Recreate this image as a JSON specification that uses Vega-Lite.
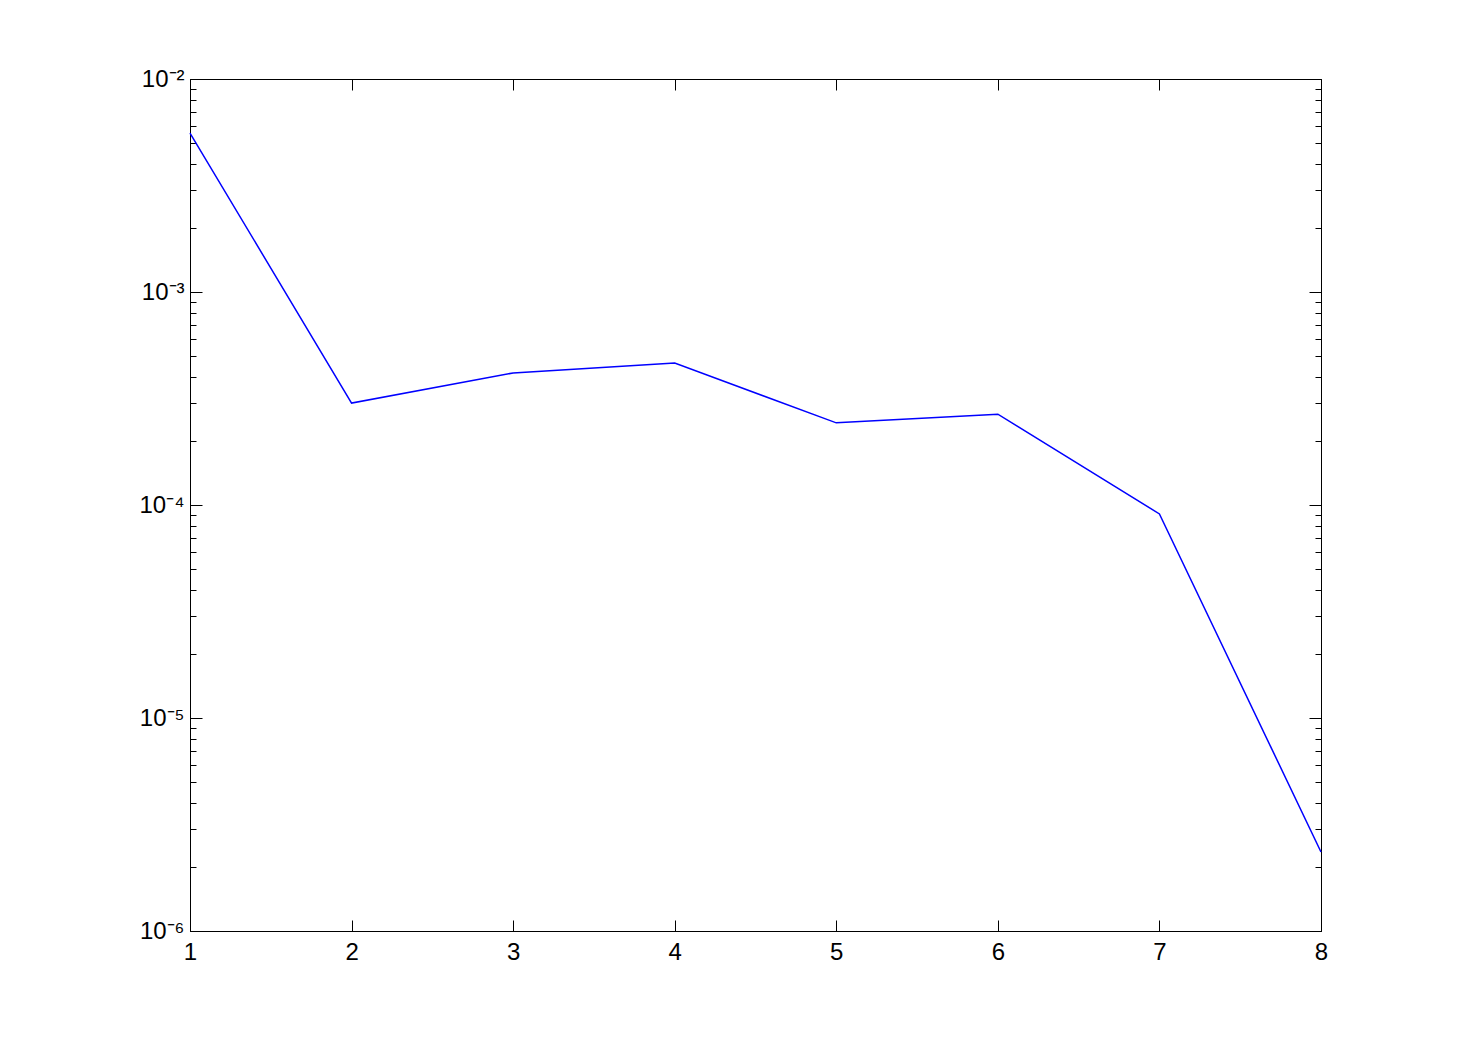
{
  "$schema": "https://vega.github.io/schema/vega-lite/v6.json",
  "autosize": "none",
  "width": 1131,
  "height": 852,
  "padding": {"left": 190, "top": 79, "right": 139, "bottom": 116},
  "background": "white",
  "config": {
    "view": {"stroke": "black", "strokeWidth": 1},
    "axis": {
      "domainColor": "black",
      "domainWidth": 1,
      "tickColor": "black",
      "tickWidth": 1,
      "grid": false,
      "labelFont": "Liberation Sans",
      "labelFontSize": 24,
      "labelColor": "black",
      "title": null
    }
  },
  "data": {
    "values": [
      {"x": 1, "y": 0.00557},
      {"x": 2, "y": 0.000301},
      {"x": 3, "y": 0.000417},
      {"x": 4, "y": 0.000464},
      {"x": 5, "y": 0.000243},
      {"x": 6, "y": 0.000267},
      {"x": 7, "y": 0.0000908},
      {"x": 8, "y": 0.00000235}
    ]
  },
  "resolve": {"axis": {"x": "independent", "y": "independent"}},
  "layer": [
    {
      "mark": {"type": "line", "color": "#0000FF", "strokeWidth": 1.5},
      "encoding": {
        "x": {
          "field": "x", "type": "quantitative",
          "scale": {"domain": [1, 8], "nice": false, "zero": false},
          "axis": {"orient": "bottom", "values": [1,2,3,4,5,6,7,8], "tickSize": -11, "labelPadding": 20, "format": "d", "labelFlush": false}
        },
        "y": {
          "field": "y", "type": "quantitative",
          "scale": {"type": "log", "domain": [0.000001, 0.01], "nice": false},
          "axis": {
            "orient": "left",
            "values": [0.000001,0.000002,0.000003,0.000004,0.000005,0.000006,0.000007,0.000008,0.000009,
                       0.00001,0.00002,0.00003,0.00004,0.00005,0.00006,0.00007,0.00008,0.00009,
                       0.0001,0.0002,0.0003,0.0004,0.0005,0.0006,0.0007,0.0008,0.0009,
                       0.001,0.002,0.003,0.004,0.005,0.006,0.007,0.008,0.009,0.01],
            "labelExpr": "abs(log(datum.value)/LN10 - round(log(datum.value)/LN10)) < 0.001 ? (round(log(datum.value)/LN10) == -2 ? '10⁻²' : round(log(datum.value)/LN10) == -3 ? '10⁻³' : round(log(datum.value)/LN10) == -4 ? '10⁻⁴' : round(log(datum.value)/LN10) == -5 ? '10⁻⁵' : '10⁻⁶') : ''",
            "tickSize": {"condition": {"test": "abs(log(datum.value)/LN10 - round(log(datum.value)/LN10)) < 0.001", "value": -12}, "value": -6},
            "labelPadding": 18,
            "labelFlush": false,
            "labelOverlap": false
          }
        }
      }
    },
    {
      "mark": {"type": "line", "color": "#0000FF", "strokeOpacity": 0},
      "encoding": {
        "x": {
          "field": "x", "type": "quantitative",
          "axis": {"orient": "top", "values": [1,2,3,4,5,6,7,8], "tickSize": -11, "labels": false}
        },
        "y": {
          "field": "y", "type": "quantitative",
          "axis": {
            "orient": "right",
            "values": [0.000001,0.000002,0.000003,0.000004,0.000005,0.000006,0.000007,0.000008,0.000009,
                       0.00001,0.00002,0.00003,0.00004,0.00005,0.00006,0.00007,0.00008,0.00009,
                       0.0001,0.0002,0.0003,0.0004,0.0005,0.0006,0.0007,0.0008,0.0009,
                       0.001,0.002,0.003,0.004,0.005,0.006,0.007,0.008,0.009,0.01],
            "labels": false,
            "tickSize": {"condition": {"test": "abs(log(datum.value)/LN10 - round(log(datum.value)/LN10)) < 0.001", "value": -12}, "value": -6}
          }
        }
      }
    }
  ]
}
